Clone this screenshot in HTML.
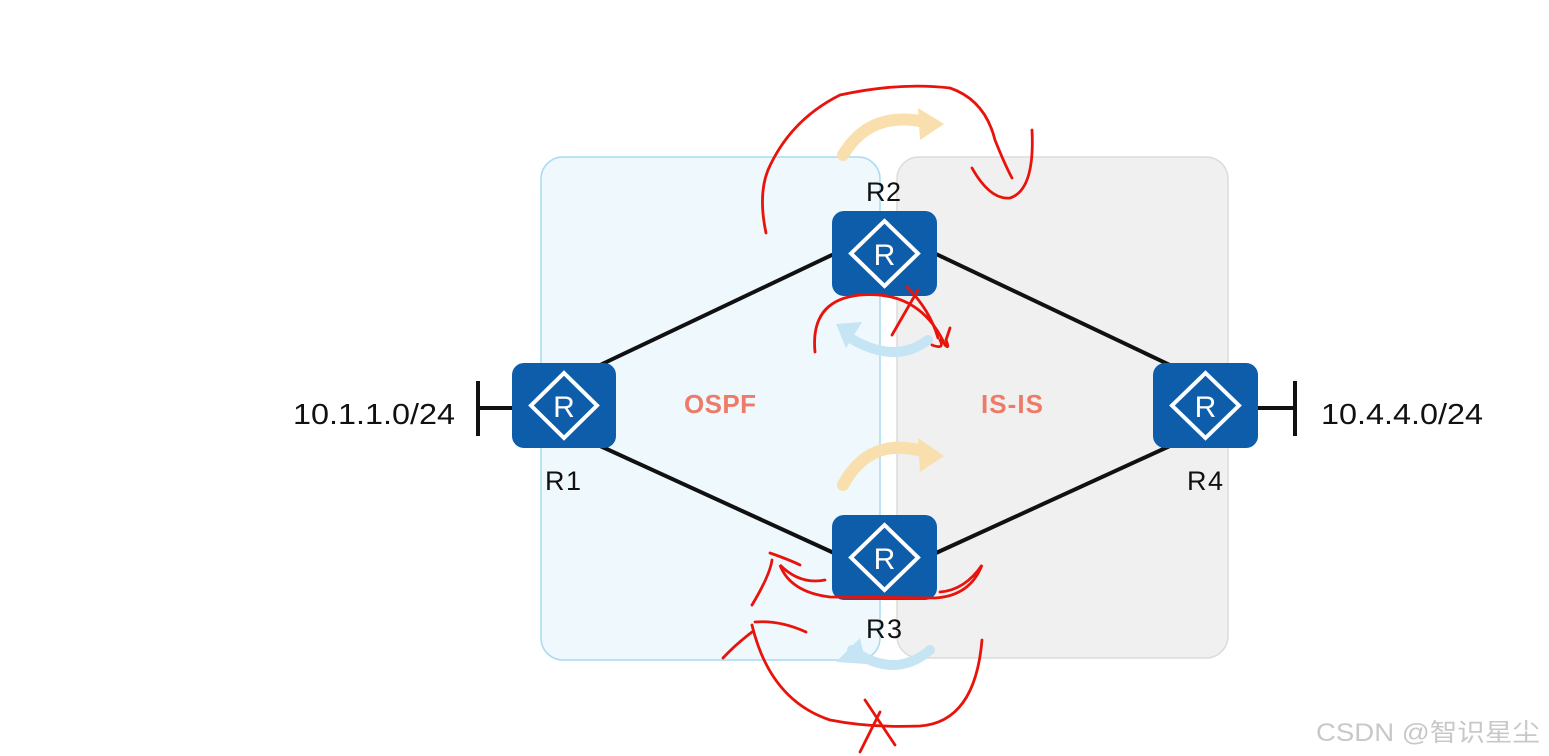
<!DOCTYPE html>
<html><head><meta charset="utf-8"><style>
html,body{margin:0;padding:0;background:#fff;}
svg{display:block;}
text{font-family:"Liberation Sans","Noto Sans CJK SC",sans-serif;}
</style></head><body>
<svg width="1549" height="756" viewBox="0 0 1549 756" xmlns="http://www.w3.org/2000/svg">
<rect width="1549" height="756" fill="#fff"/>
<rect x="541" y="157" width="339" height="503" rx="22" fill="#eef8fd" stroke="#a9daef" stroke-width="1.5"/>
<rect x="897" y="157" width="331" height="501" rx="22" fill="#f0f0f0" stroke="#dcdcdc" stroke-width="1.5"/>
<g stroke="#111" stroke-width="4">
<line x1="598" y1="366" x2="834" y2="254"/>
<line x1="598" y1="445" x2="834" y2="553"/>
<line x1="936" y1="254" x2="1172" y2="366"/>
<line x1="936" y1="553" x2="1172" y2="445"/>
<line x1="478" y1="408" x2="512" y2="408"/>
<line x1="478" y1="381" x2="478" y2="436"/>
<line x1="1257" y1="408" x2="1295" y2="408"/>
<line x1="1295" y1="381" x2="1295" y2="436"/>
</g>
<g fill="none" stroke-linecap="round">
<path d="M843 155 Q870 110 925 122" stroke="#f9dfae" stroke-width="12"/>
<polygon points="918,108 944,124 920,140" fill="#f9dfae"/>
<path d="M843 485 Q870 435 925 452" stroke="#f9dfae" stroke-width="12"/>
<polygon points="918,438 944,456 920,472" fill="#f9dfae"/>
<path d="M928 340 Q895 365 850 338" stroke="#c6e5f4" stroke-width="10"/>
<polygon points="836,324 862,322 846,348" fill="#c6e5f4"/>
<path d="M930 650 Q895 680 852 650" stroke="#c6e5f4" stroke-width="10"/>
<polygon points="836,662 860,638 866,664" fill="#c6e5f4"/>
</g>
<g>
<rect x="832" y="211" width="105" height="85" rx="12" fill="#0d5dab"/>
<polygon points="884.5,221 918,253.5 884.5,286 851,253.5" fill="none" stroke="#fff" stroke-width="4"/>
<text x="884.5" y="265" font-size="30" fill="#fff" text-anchor="middle">R</text>
<rect x="512" y="363" width="104" height="85" rx="12" fill="#0d5dab"/>
<polygon points="564,373 597,405.5 564,438 531,405.5" fill="none" stroke="#fff" stroke-width="4"/>
<text x="564" y="417" font-size="30" fill="#fff" text-anchor="middle">R</text>
<rect x="1153" y="363" width="105" height="85" rx="12" fill="#0d5dab"/>
<polygon points="1205.5,373 1239,405.5 1205.5,438 1172,405.5" fill="none" stroke="#fff" stroke-width="4"/>
<text x="1205.5" y="417" font-size="30" fill="#fff" text-anchor="middle">R</text>
<rect x="832" y="515" width="105" height="85" rx="12" fill="#0d5dab"/>
<polygon points="884.5,525 918,557.5 884.5,590 851,557.5" fill="none" stroke="#fff" stroke-width="4"/>
<text x="884.5" y="569" font-size="30" fill="#fff" text-anchor="middle">R</text>
</g>
<g font-size="27" fill="#111">
<text x="866" y="201" textLength="35">R2</text>
<text x="545" y="490" textLength="36">R1</text>
<text x="1187" y="490" textLength="36">R4</text>
<text x="866" y="638" textLength="36">R3</text>
</g>
<text x="293" y="424" font-size="29" fill="#111" textLength="162" lengthAdjust="spacingAndGlyphs">10.1.1.0/24</text>
<text x="1321" y="424" font-size="29" fill="#111" textLength="162" lengthAdjust="spacingAndGlyphs">10.4.4.0/24</text>
<text x="684" y="413" font-size="26" font-weight="bold" fill="#ee7b68" textLength="72">OSPF</text>
<text x="981" y="413" font-size="26" font-weight="bold" fill="#ee7b68" textLength="62">IS-IS</text>
<g fill="none" stroke="#e8140c" stroke-width="2.8" stroke-linecap="round">
<path d="M766 233 Q758 195 768 170 Q790 120 840 95 Q900 82 950 88 Q985 100 995 140 Q1005 165 1012 178"/>
<path d="M1032 130 Q1035 190 1010 198 Q990 200 972 168"/>
<path d="M815 352 Q810 300 860 295 Q920 290 945 345 Q950 350 946 340 L950 328 M940 340 Q945 350 932 345"/>
<path d="M892 335 L918 290 M907 287 Q930 310 938 338"/>
<path d="M800 565 Q790 560 770 553 M772 560 Q770 575 752 605 M825 580 Q800 585 780 565 Q790 592 830 597 L935 598 Q970 596 982 565 Q965 590 940 592"/>
<path d="M755 622 Q780 620 806 632 M752 632 Q735 645 723 658 M752 625 Q770 700 830 720 Q870 728 920 726 Q975 722 982 640"/>
<path d="M865 700 L895 745 M880 712 L860 752"/>
</g>
<text x="1316" y="741" font-size="25" fill="#c8c8c8" textLength="224" lengthAdjust="spacingAndGlyphs">CSDN @智识星尘</text>
</svg>
</body></html>
